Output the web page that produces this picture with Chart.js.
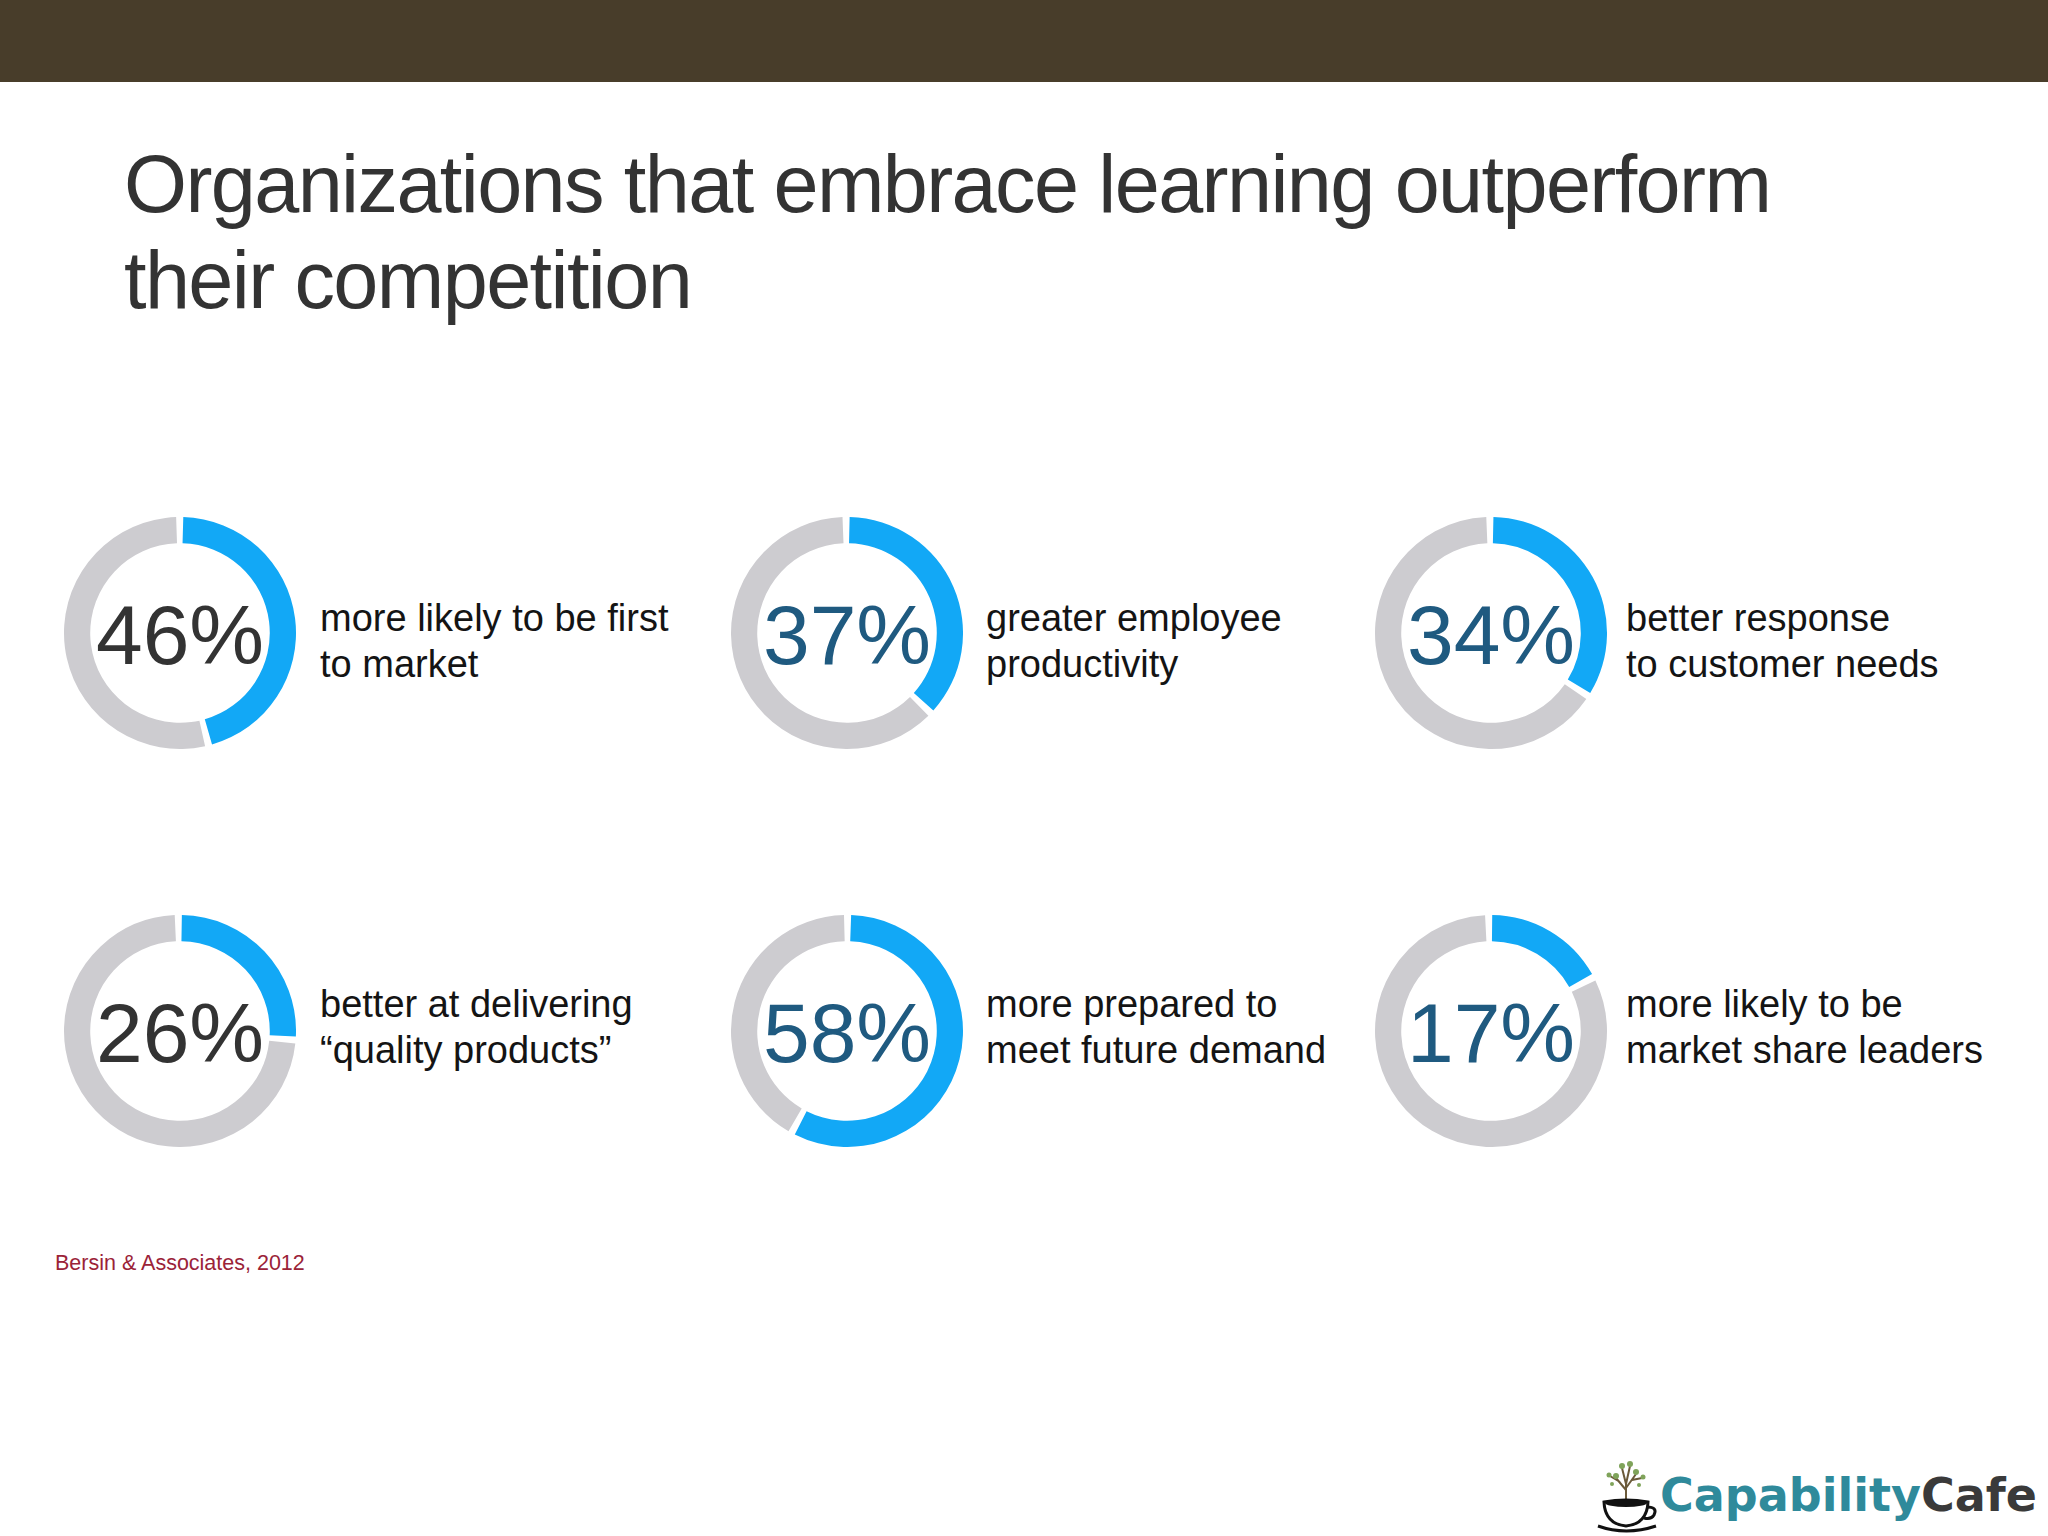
<!DOCTYPE html>
<html>
<head>
<meta charset="utf-8">
<script src="https://cdn.jsdelivr.net/npm/chart.js@4.4.0/dist/chart.umd.min.js"></script>
<style>
  html, body { margin: 0; padding: 0; background: #fff; }
  body { width: 2048px; height: 1536px; position: relative; overflow: hidden; font-family: "Liberation Sans", Arial, sans-serif; }
  #topbar { position: absolute; left: 0; top: 0; width: 2048px; height: 82px; background: #483d2a; }
  #title { position: absolute; left: 124px; top: 136px; font-size: 81px; line-height: 96px; letter-spacing: -1.6px; color: #333; white-space: nowrap; }
  .ring { position: absolute; width: 232px; height: 232px; }
  .caption { position: absolute; font-size: 38px; line-height: 46px; color: #141414; white-space: nowrap; }
  #source { position: absolute; left: 55px; top: 1251px; font-size: 21.5px; color: #9b2338; }
  #logo { position: absolute; left: 1592px; top: 1454px; width: 456px; height: 82px; }
  #logoText { position: absolute; left: 68px; top: 14px; font-family: "DejaVu Sans", sans-serif; font-weight: bold; font-size: 46px; white-space: nowrap; }
</style>
</head>
<body>
<div id="topbar"></div>
<div id="title">Organizations that embrace learning outperform<br>their competition</div>
<div id="source">Bersin &amp; Associates, 2012</div>
<div id="logo">
  <svg width="70" height="82" viewBox="0 0 70 82" style="position:absolute;left:0;top:0">
    <path d="M34 48 L34 30 M34 36 L24 24 M34 34 L44 20 M34 30 L30 14 M34 30 L38 12 M28 28 L18 22 M40 26 L50 24" stroke="#6b5a3a" stroke-width="2" fill="none"/>
    <g fill="#7fa35a">
      <circle cx="24" cy="22" r="3"/><circle cx="44" cy="18" r="3"/><circle cx="30" cy="12" r="3"/>
      <circle cx="38" cy="10" r="3"/><circle cx="17" cy="21" r="2.5"/><circle cx="51" cy="23" r="2.5"/>
      <circle cx="20" cy="30" r="2"/><circle cx="47" cy="31" r="2"/>
    </g>
    <path d="M12 48 Q34 44 56 48 Q55 70 34 72 Q13 70 12 48 Z" fill="#fff" stroke="#111" stroke-width="3"/>
    <ellipse cx="34" cy="49" rx="21" ry="4" fill="#111"/>
    <path d="M55 53 Q66 53 62 61 Q59 66 52 64" fill="none" stroke="#111" stroke-width="3"/>
    <path d="M6 72 Q34 82 64 72" fill="none" stroke="#111" stroke-width="3"/>
  </svg>
  <div id="logoText"><span style="color:#2f8a9b">Capability</span><span style="color:#3a3a3a">Cafe</span></div>
</div>
<script>
// Figures from the slide (percent better than competitors)
const stats = [46, 37, 34, 26, 58, 17];
const statLabels = ["46%", "37%", "34%", "26%", "58%", "17%"];
const captions = [
  ["more likely to be first", "to market"],
  ["greater employee", "productivity"],
  ["better response", "to customer needs"],
  ["better at delivering", "\u201cquality products\u201d"],
  ["more prepared to", "meet future demand"],
  ["more likely to be", "market share leaders"]
];

// layout of the 3 x 2 grid
const colCenters = [180, 847, 1491];
const rowCenters = [633, 1031];
const captionX = [320, 986, 1626];
const numberColors = ["#333333", "#1f5a80", "#1f5a80", "#333333", "#1f5a80", "#1f5a80"];

const centerText = {
  id: "centerText",
  afterDraw(chart, args, opts) {
    const arc = chart.getDatasetMeta(0).data[0];
    const ctx = chart.ctx;
    ctx.save();
    ctx.font = "84px 'Liberation Sans', Arial, sans-serif";
    ctx.fillStyle = opts.color;
    ctx.textAlign = "center";
    ctx.textBaseline = "alphabetic";
    ctx.fillText(opts.text, arc.x, arc.y + 31);
    ctx.restore();
  }
};

stats.forEach((value, i) => {
  const col = i % 3, row = Math.floor(i / 3);
  const cx = colCenters[col], cy = rowCenters[row];

  const box = document.createElement("div");
  box.className = "ring";
  box.style.left = (cx - 116) + "px";
  box.style.top = (cy - 116) + "px";
  const canvas = document.createElement("canvas");
  canvas.width = 232;
  canvas.height = 232;
  box.appendChild(canvas);
  document.body.appendChild(box);

  new Chart(canvas.getContext("2d"), {
    type: "doughnut",
    data: {
      labels: ["value", "rest"],
      datasets: [{
        data: [value, 100 - value],
        backgroundColor: ["#12a8f6", "#cdccd0"],
        borderWidth: 0,
        spacing: 4
      }]
    },
    options: {
      responsive: false,
      animation: false,
      cutout: "77%",
      rotation: 0,
      events: [],
      plugins: {
        legend: { display: false },
        tooltip: { enabled: false },
        centerText: { text: statLabels[i], color: numberColors[i] }
      }
    },
    plugins: [centerText]
  });

  const cap = document.createElement("div");
  cap.className = "caption";
  cap.style.left = captionX[col] + "px";
  cap.style.top = (row === 0 ? 595 : 981) + "px";
  cap.innerHTML = captions[i].join("<br>");
  document.body.appendChild(cap);
});
</script>
</body>
</html>
